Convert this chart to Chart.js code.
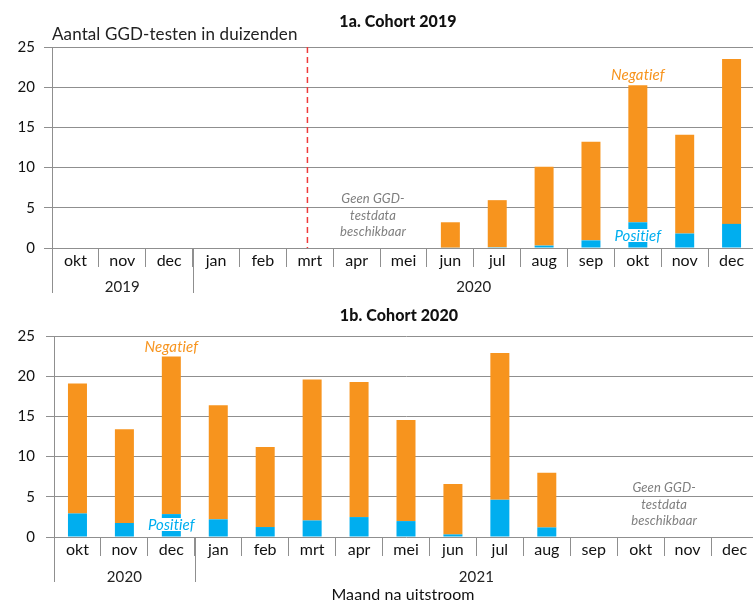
<!DOCTYPE html>
<html>
<head>
<meta charset="utf-8">
<script src="https://cdn.jsdelivr.net/npm/chart.js@4.4.0/dist/chart.umd.min.js"></script>
<style>
html, body { margin: 0; padding: 0; background: #fff; width: 753px; height: 603px; overflow: hidden; }
canvas { position: absolute; left: 0; }
#c1 { top: 0; }
#c2 { top: 300px; }
</style>
</head>
<body>
<canvas id="c1" width="760" height="300" style="width:760px;height:300px"></canvas>
<canvas id="c2" width="760" height="303" style="width:760px;height:303px"></canvas>
<script>
// months after leaving, in thousands of GGD tests
var months = ['okt', 'nov', 'dec', 'jan', 'feb', 'mrt', 'apr', 'mei', 'jun', 'jul', 'aug', 'sep', 'okt', 'nov', 'dec'];

var years2019 = ['2019', '2020'];
var yearStarts2019 = [0, 3];
var years2020 = ['2020', '2021'];
var yearStarts2020 = [0, 3];

var yTicks = [0, 5, 10, 15, 20, 25];

// cohort 2019
var pos2019 = [null, null, null, null, null, null, null, null, 0.05, 0.1, 0.3, 0.95, 3.2, 1.8, 3.0];
var neg2019 = [null, null, null, null, null, null, null, null, 3.15, 5.85, 9.8, 12.25, 17.05, 12.3, 20.5];

// cohort 2020
var pos2020 = [2.93, 1.74, 2.85, 2.2, 1.24, 2.06, 2.48, 1.98, 0.32, 4.63, 1.19, null, null, null, null];
var neg2020 = [16.17, 11.66, 19.6, 14.2, 9.96, 17.54, 16.79, 12.57, 6.28, 18.27, 6.79, null, null, null, null];

var ORANGE = '#F7941E';
var BLUE = '#00AEEF';
var GRID = '#8f8f8f';
var FONT = 'Lato, "Open Sans", sans-serif';

var extras = {
    id: 'extras',
    afterDraw: function (chart, args, o) {
        var ctx = chart.ctx, xs = chart.scales.x, ys = chart.scales.y, a = chart.chartArea;
        var step = xs.getPixelForValue(1) - xs.getPixelForValue(0);
        ctx.save();
        ctx.letterSpacing = '0.1px'; // no ti-ligature

        // title
        ctx.fillStyle = '#111';
        ctx.font = '900 16px ' + FONT;
        ctx.textAlign = 'center';
        ctx.textBaseline = 'alphabetic';
        ctx.fillText(o.title, o.titleX, o.titleY);

        if (o.yLabel) {
            ctx.font = '17px ' + FONT;
            ctx.textAlign = 'left';
            ctx.fillStyle = '#222';
            ctx.fillText(o.yLabel, a.left, o.yLabelY);
        }

        // long separators and year labels
        ctx.strokeStyle = GRID;
        ctx.lineWidth = 1;
        ctx.font = '15px ' + FONT;
        ctx.textAlign = 'center';
        ctx.fillStyle = '#222';
        for (var i = 0; i < o.years.length; i++) {
            var from = xs.getPixelForValue(o.starts[i]) - step / 2;
            var end = i + 1 < o.starts.length ? o.starts[i + 1] - 1 : months.length - 1;
            var to = xs.getPixelForValue(end) + step / 2;
            var px = Math.round(from) + 0.5;
            ctx.beginPath();
            ctx.moveTo(px, a.bottom);
            ctx.lineTo(px, o.longBottom);
            ctx.stroke();
            ctx.fillText(o.years[i], (from + to) / 2, o.yearY);
        }

        if (o.xTitle) {
            ctx.font = '16px ' + FONT;
            ctx.fillStyle = '#111';
            ctx.fillText(o.xTitle, o.xTitleX, o.xTitleY);
        }

        // dashed marker
        if (o.dashAt != null) {
            var dx = xs.getPixelForValue(o.dashAt);
            ctx.strokeStyle = '#EE3B3B';
            ctx.lineWidth = 1.5;
            ctx.setLineDash([6, 4]);
            ctx.beginPath();
            ctx.moveTo(dx, a.top);
            ctx.lineTo(dx, a.bottom);
            ctx.stroke();
            ctx.setLineDash([]);
        }

        // no data note
        ctx.font = 'italic 13px ' + FONT;
        ctx.fillStyle = '#7f7f7f';
        var nx = xs.getPixelForValue(o.noDataAt);
        var zero = ys.getPixelForValue(0);
        ctx.fillText('Geen GGD-', nx, zero - 45);
        ctx.fillText('testdata', nx, zero - 28.5);
        ctx.fillText('beschikbaar', nx, zero - 12);

        // series labels
        var lx = xs.getPixelForValue(o.labelAt);
        var top = ys.getPixelForValue(o.labelTotal);
        ctx.font = 'italic 15px ' + FONT;
        ctx.fillStyle = ORANGE;
        ctx.fillText('Negatief', lx, top - 5);
        var w = ctx.measureText('Positief').width;
        ctx.fillStyle = '#fff';
        ctx.fillRect(lx - w / 2 - 2, zero - 19, w + 4, 13);
        ctx.fillStyle = BLUE;
        ctx.fillText('Positief', lx, zero - 7.5);

        ctx.restore();
    }
};

function makeChart(id, pos, neg, cfg) {
    return new Chart(document.getElementById(id), {
        type: 'bar',
        data: {
            labels: months,
            datasets: [
                { label: 'Positief', data: pos, backgroundColor: BLUE },
                { label: 'Negatief', data: neg, backgroundColor: ORANGE }
            ]
        },
        options: {
            responsive: false,
            animation: false,
            events: [],
            layout: { padding: { top: cfg.padTop, right: cfg.padRight, left: 0, bottom: 0 } },
            datasets: { bar: { categoryPercentage: 1, barPercentage: 0.405 } },
            scales: {
                x: {
                    stacked: true,
                    afterFit: function (s) { s.height = cfg.xHeight; },
                    grid: { offset: true, drawOnChartArea: false, color: GRID, tickLength: 19 },
                    border: { display: false },
                    ticks: { color: '#111', font: { family: FONT, size: 16 }, padding: -15.5, maxRotation: 0, autoSkip: false }
                },
                y: {
                    stacked: true,
                    min: 0,
                    max: 25,
                    afterFit: function (s) { s.width = cfg.yWidth; },
                    afterBuildTicks: function (s) { s.ticks = yTicks.map(function (v) { return { value: v }; }); },
                    grid: { color: GRID, tickLength: 8 },
                    border: { color: GRID },
                    ticks: { color: '#111', font: { family: FONT, size: 15 }, padding: cfg.yWidth - 8 - 35 }
                }
            },
            plugins: {
                legend: { display: false },
                tooltip: { enabled: false },
                extras: cfg.extras
            }
        },
        plugins: [extras]
    });
}

makeChart('c1', pos2019, neg2019, {
    padTop: 47, padRight: 5, xHeight: 52, yWidth: 52,
    extras: {
        title: '1a. Cohort 2019', titleX: 398, titleY: 27,
        yLabel: 'Aantal GGD-testen in duizenden', yLabelY: 40,
        years: years2019, starts: yearStarts2019, longBottom: 293, yearY: 292,
        dashAt: 4.95, noDataAt: 6.35, labelAt: 12,
        labelTotal: pos2019[12] + neg2019[12]
    }
});

makeChart('c2', pos2020, neg2020, {
    padTop: 36, padRight: 2, xHeight: 66, yWidth: 54,
    extras: {
        title: '1b. Cohort 2020', titleX: 399, titleY: 21,
        years: years2020, starts: yearStarts2020, longBottom: 282, yearY: 282,
        xTitle: 'Maand na uitstroom', xTitleX: 403, xTitleY: 300,
        dashAt: null, noDataAt: 12.5, labelAt: 2,
        labelTotal: pos2020[2] + neg2020[2]
    }
});
</script>
</body>
</html>
